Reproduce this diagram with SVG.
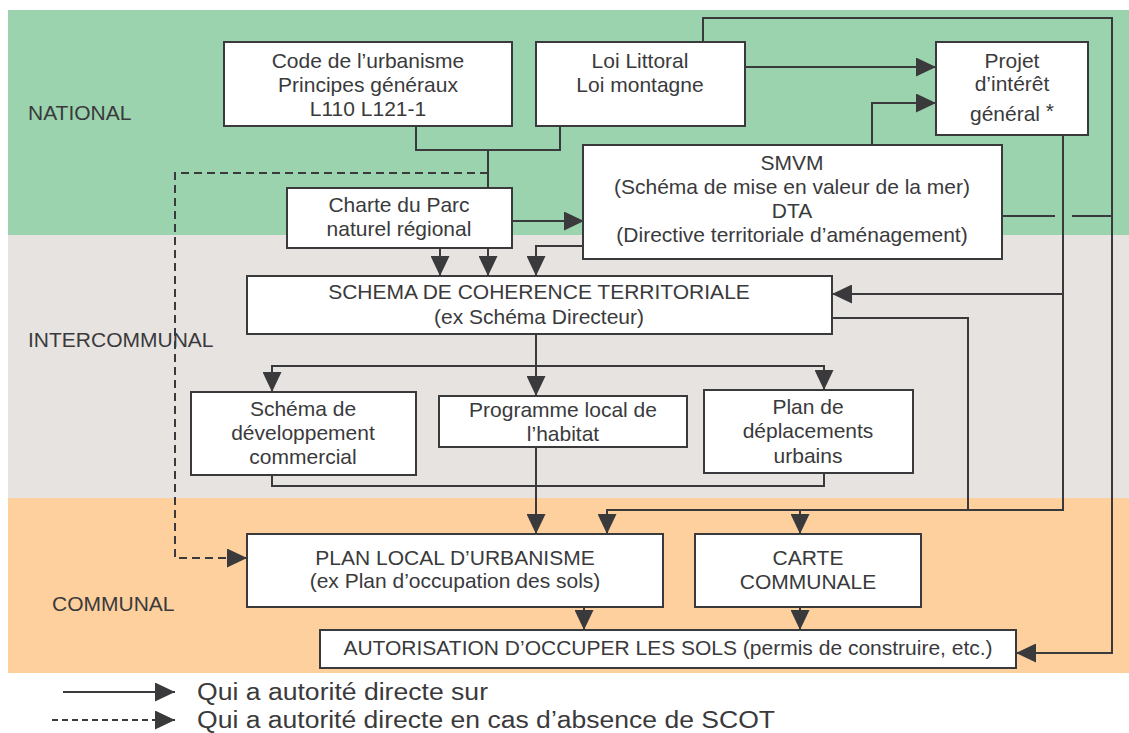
<svg xmlns="http://www.w3.org/2000/svg" width="1129" height="733" viewBox="0 0 1129 733">
<style>
.box{fill:#fff;stroke:#3a3a3c;stroke-width:2}
.t{font-family:"Liberation Sans",Arial,sans-serif;font-size:21px;fill:#3a3a3c;text-anchor:middle}
.lbl{font-family:"Liberation Sans",Arial,sans-serif;font-size:21px;fill:#3a3a3c}
.leg{font-family:"Liberation Sans",Arial,sans-serif;font-size:23px;fill:#3a3a3c}
.c{fill:none;stroke:#3a3a3c;stroke-width:2}
.a{marker-end:url(#ah)}
.d{stroke-dasharray:8 5}
</style>
<defs>
<marker id="ah" markerUnits="userSpaceOnUse" markerWidth="20" markerHeight="19" refX="20" refY="9.5" orient="auto">
<path d="M0,0 L20,9.5 L0,19 z" fill="#3a3a3c"/>
</marker>
</defs>
<g id="bands">
<rect x="8" y="10" width="1121" height="225" fill="#9ad3ae"/>
<rect x="8" y="235" width="1121" height="263" fill="#e7e3e0"/>
<rect x="8" y="498" width="1121" height="175" fill="#fdd09d"/>
<text class="lbl" x="28" y="120">NATIONAL</text>
<text class="lbl" x="28" y="347">INTERCOMMUNAL</text>
<text class="lbl" x="52" y="611">COMMUNAL</text>
</g>
<g id="connectors">
<polyline class="c" points="416,126 416,150 560,150 560,126"/>
<polyline class="c" points="488,150 488,188"/>
<polyline class="c d a" points="488,173 175,173 175,558 247,558"/>
<polyline class="c a" points="512,221 584,221"/>
<polyline class="c a" points="440,248 440,276"/>
<polyline class="c a" points="488,248 488,276"/>
<polyline class="c a" points="584,246 536,246 536,276"/>
<polyline class="c a" points="745,67 936,67"/>
<polyline class="c a" points="872,145 872,103 936,103"/>
<polyline class="c a" points="703,42 703,18 1112,18 1112,653 1016,653"/>
<polyline class="c" points="1002,216 1055,216"/>
<polyline class="c" points="1072,216 1112,216"/>
<polyline class="c" points="1063,135 1063,510 607,510"/>
<polyline class="c a" points="1063,294 832,294"/>
<polyline class="c" points="832,318 968,318 968,510"/>
<polyline class="c a" points="607,509 607,534"/>
<polyline class="c a" points="800,509 800,534"/>
<polyline class="c a" points="536,334 536,396"/>
<polyline class="c" points="272,366 824,366"/>
<polyline class="c a" points="272,365 272,392"/>
<polyline class="c a" points="824,365 824,390"/>
<polyline class="c a" points="536,447 536,534"/>
<polyline class="c" points="272,475 272,486 824,486 824,473"/>
<polyline class="c a" points="584,607 584,630"/>
<polyline class="c a" points="800,607 800,630"/>
</g>
<g id="code">
<rect class="box" x="224" y="42" width="288" height="84"/>
<text class="t" x="368" y="68">Code de l’urbanisme</text>
<text class="t" x="368" y="92">Principes généraux</text>
<text class="t" x="368" y="116">L110 L121-1</text>
</g>
<g id="loi">
<rect class="box" x="536" y="42" width="209" height="84"/>
<text class="t" x="640" y="68">Loi Littoral</text>
<text class="t" x="640" y="92">Loi montagne</text>
</g>
<g id="projet">
<rect class="box" x="936" y="42" width="152" height="93"/>
<text class="t" x="1012" y="68">Projet</text>
<text class="t" x="1012" y="91">d’intérêt</text>
<text class="t" x="1012" y="121">général <tspan dy="-3">*</tspan></text>
</g>
<g id="smvm">
<rect class="box" x="583" y="145" width="419" height="114"/>
<text class="t" x="792" y="170">SMVM</text>
<text class="t" x="792" y="194">(Schéma de mise en valeur de la mer)</text>
<text class="t" x="792" y="218">DTA</text>
<text class="t" x="792" y="242">(Directive territoriale d’aménagement)</text>
</g>
<g id="charte">
<rect class="box" x="287" y="188" width="225" height="60"/>
<text class="t" x="399" y="212">Charte du Parc</text>
<text class="t" x="399" y="236">naturel régional</text>
</g>
<g id="scot">
<rect class="box" x="247" y="276" width="585" height="58"/>
<text class="t" x="539" y="299">SCHEMA DE COHERENCE TERRITORIALE</text>
<text class="t" x="539" y="324">(ex Schéma Directeur)</text>
</g>
<g id="sdc">
<rect class="box" x="191" y="392" width="225" height="83"/>
<text class="t" x="303" y="416">Schéma de</text>
<text class="t" x="303" y="440">développement</text>
<text class="t" x="303" y="464">commercial</text>
</g>
<g id="plh">
<rect class="box" x="439" y="396" width="248" height="51"/>
<text class="t" x="563" y="417">Programme local de</text>
<text class="t" x="563" y="441">l’habitat</text>
</g>
<g id="pdu">
<rect class="box" x="704" y="390" width="209" height="83"/>
<text class="t" x="808" y="414">Plan de</text>
<text class="t" x="808" y="438">déplacements</text>
<text class="t" x="808" y="463">urbains</text>
</g>
<g id="plu">
<rect class="box" x="247" y="534" width="416" height="73"/>
<text class="t" x="455" y="565">PLAN LOCAL D’URBANISME</text>
<text class="t" x="455" y="588">(ex Plan d’occupation des sols)</text>
</g>
<g id="carte">
<rect class="box" x="695" y="534" width="226" height="73"/>
<text class="t" x="808" y="565">CARTE</text>
<text class="t" x="808" y="589">COMMUNALE</text>
</g>
<g id="auto">
<rect class="box" x="320" y="630" width="696" height="38"/>
<text class="t" x="668" y="655">AUTORISATION D’OCCUPER LES SOLS (permis de construire, etc.)</text>
</g>
<g id="legend">
<polyline class="c a" points="63,692 175,692"/>
<polyline class="c a" points="52,720 175,720" style="stroke-dasharray:6 4"/>
<text class="leg" x="197" y="700" textLength="291" lengthAdjust="spacingAndGlyphs">Qui a autorité directe sur</text>
<text class="leg" x="197" y="728" textLength="578" lengthAdjust="spacingAndGlyphs">Qui a autorité directe en cas d’absence de SCOT</text>
</g>
</svg>
